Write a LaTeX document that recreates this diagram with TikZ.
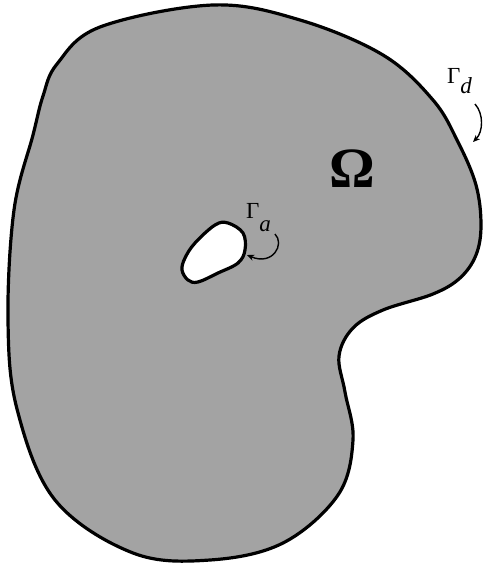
\documentclass[tikz,border=0pt]{standalone}
\usepackage{fontspec}
\setmainfont{Liberation Serif}
\usetikzlibrary{arrows.meta}
\definecolor{domaingray}{RGB}{163,163,163}
\begin{document}
\begin{tikzpicture}[x=1pt,y=-1pt,
  region/.style={fill=domaingray,draw=black,line width=3.2pt,line join=round},
  holeshape/.style={fill=white,draw=black,line width=3.2pt,line join=round},
  pointer/.style={line width=1.4pt,-{Stealth[length=7pt,width=6pt,inset=2pt]}},
  lab/.style={inner sep=0pt,anchor=base west,font=\fontsize{23}{27}\selectfont}]
\useasboundingbox (0,0) rectangle (483,563);
% outer boundary
\draw[region] plot[smooth cycle,tension=0.6] coordinates {
 (43,96) (57,64) (100,27) (213,5) (300,20) (383,55) (433,100) (458,142)
 (476,185) (481,225) (476,255) (460,278) (433,294) (383,310) (353,328)
 (339,356) (345,392) (353,440) (338,495) (283,543) (210,560) (133,553)
 (55,500) (17,409) (8,320) (14,210) (33,135)};
% hole
\draw[holeshape] plot[smooth cycle,tension=0.6] coordinates {
 (182,270) (188,280) (198,282) (218,273) (238,263) (245,250) (243,233)
 (228,223) (215,225) (195,243) (185,258)};
% labels
\node[inner sep=0pt,anchor=base,font=\fontsize{57}{61}\selectfont\bfseries] (omega) at (352.5,187) {Ω};
\node[lab] (gd) at (447,83.5) {Γ\raisebox{-10pt}{\itshape d}};
\node[lab] (ga) at (246,218) {Γ\raisebox{-13pt}{\itshape a}};
% pointers
\coordinate (gdstart) at (475,104);
\coordinate (gdtip) at (473,142);
\coordinate (gastart) at (275,234);
\coordinate (gatip) at (247,255);
\draw[pointer] (gdstart) .. controls (484,114) and (483,132) .. (gdtip);
\draw[pointer] (gastart) .. controls (285,244) and (273,266) .. (gatip);
\end{tikzpicture}
\end{document}
